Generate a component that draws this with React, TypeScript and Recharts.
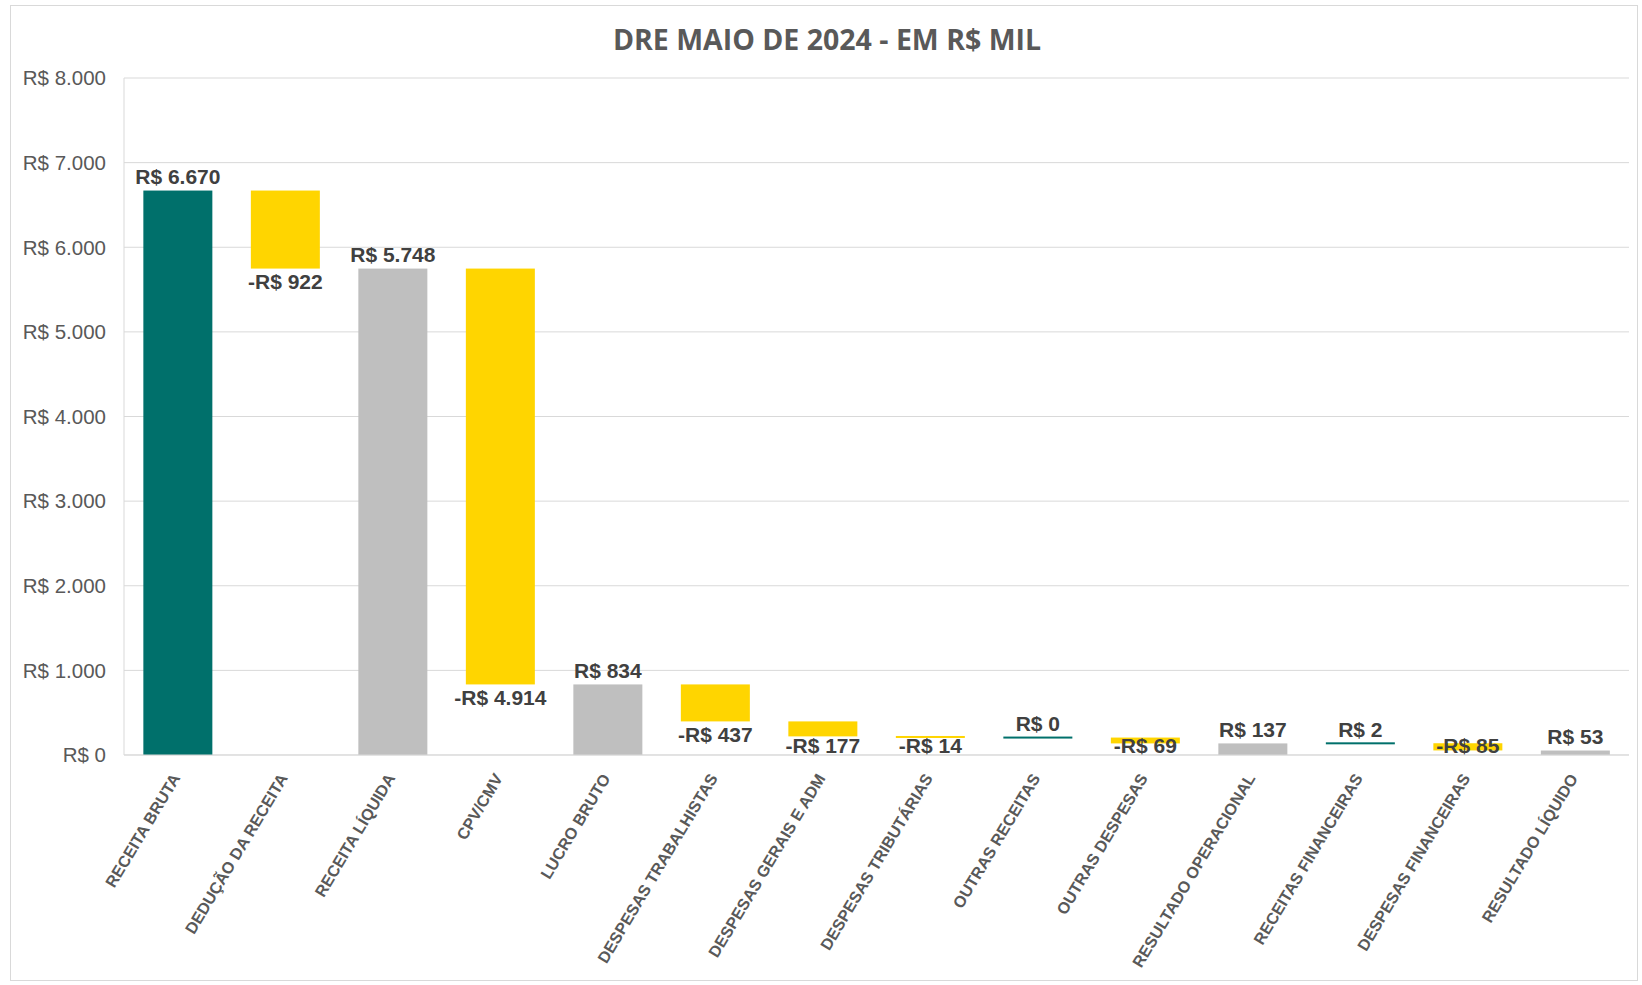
import React from 'react';
import { BarChart, Bar, XAxis, YAxis, CartesianGrid } from 'recharts';

const categories = [
  'RECEITA BRUTA',
  'DEDUÇÃO DA RECEITA',
  'RECEITA LÍQUIDA',
  'CPV/CMV',
  'LUCRO BRUTO',
  'DESPESAS TRABALHISTAS',
  'DESPESAS GERAIS E ADM',
  'DESPESAS TRIBUTÁRIAS',
  'OUTRAS RECEITAS',
  'OUTRAS DESPESAS',
  'RESULTADO OPERACIONAL',
  'RECEITAS FINANCEIRAS',
  'DESPESAS FINANCEIRAS',
  'RESULTADO LÍQUIDO',
];
const values = [6670, -922, 5748, -4914, 834, -437, -177, -14, 0, -69, 137, 2, -85, 53];
const kinds = ['delta', 'delta', 'total', 'delta', 'total', 'delta', 'delta', 'delta', 'delta', 'delta', 'total', 'delta', 'delta', 'total'];
const yTicks = [0, 1000, 2000, 3000, 4000, 5000, 6000, 7000, 8000];

const TEAL = '#00706B';
const YELLOW = '#FFD500';
const GRAY = '#BFBFBF';

const fmtNum = (n: number) => String(Math.abs(n)).replace(/\B(?=(\d{3})+(?!\d))/g, '.');
const fmtMoney = (n: number) => (n < 0 ? '-' : '') + 'R$ ' + fmtNum(n);

let running = 0;
const rows = categories.map((name, i) => {
  const v = values[i];
  let low: number, high: number;
  if (kinds[i] === 'total') {
    low = 0;
    high = v;
    running = v;
  } else {
    low = Math.min(running, running + v);
    high = Math.max(running, running + v);
    running = running + v;
  }
  const color = kinds[i] === 'total' ? GRAY : v >= 0 ? TEAL : YELLOW;
  return { name, value: v, kind: kinds[i], low, high, range: [low, high], color };
});

const BarShape = (props: any) => {
  const { x, width, payload } = props;
  let y = Number(props.y);
  let height = Number(props.height);
  if (height < 0) {
    y = y + height;
    height = -height;
  }
  const minH = 2;
  let ry = y;
  let rh = height;
  if (rh < minH) {
    ry = y - (minH - rh) / 2;
    rh = minH;
  }
  const v = payload.value;
  const above = payload.kind === 'total' || v >= 0;
  let ty: number;
  if (above) {
    ty = y - 14;
  } else {
    const span = payload.high - payload.low;
    const ppu = span > 0 ? height / span : 0;
    const axisY = y + height + payload.low * ppu;
    ty = Math.min(y + height + 13, axisY - 10);
  }
  return (
    <g>
      <rect x={x} y={ry} width={width} height={rh} fill={payload.color} />
      <text
        x={x + width / 2}
        y={ty}
        textAnchor="middle"
        dominantBaseline="central"
        fontFamily="'Liberation Sans', Arial, sans-serif"
        fontWeight="bold"
        fontSize={21}
        fill="#404040"
      >
        {fmtMoney(v)}
      </text>
    </g>
  );
};

const XTick = (props: any) => {
  const { x, y, payload } = props;
  return (
    <g transform={`translate(${x - 2},${y + 12}) rotate(-59)`}>
      <text
        x={0}
        y={0}
        textAnchor="end"
        dominantBaseline="central"
        fontFamily="'Liberation Sans', Arial, sans-serif"
        fontWeight="bold"
        fontSize={16.2}
        fill="#595959"
      >
        {payload.value}
      </text>
    </g>
  );
};

export default function App() {
  return (
    <div style={{ position: 'absolute', left: 0, top: 0, width: 1642, height: 985, background: '#fff' }}>
      <div
        style={{
          position: 'absolute',
          left: 10,
          top: 5,
          width: 1628,
          height: 976,
          border: '1px solid #d9d9d9',
          boxSizing: 'border-box',
        }}
      />
      <div
        style={{
          position: 'absolute',
          left: 0,
          top: 20,
          width: 1654,
          textAlign: 'center',
          fontFamily: "'Open Sans', sans-serif",
          fontWeight: 700,
          fontSize: 28.5,
          color: '#595959',
          lineHeight: '38px',
        }}
      >
        DRE MAIO DE 2024 - EM R$ MIL
      </div>
      <div style={{ position: 'absolute', left: 0, top: 0 }}>
        <BarChart
          width={1642}
          height={985}
          data={rows}
          margin={{ top: 78, right: 13, bottom: 10, left: 0 }}
          barCategoryGap="18%"
        >
          <CartesianGrid vertical={false} stroke="#d9d9d9" />
          <XAxis
            dataKey="name"
            interval={0}
            height={220}
            tick={<XTick />}
            tickLine={false}
            axisLine={{ stroke: '#d9d9d9' }}
          />
          <YAxis
            width={124}
            domain={[0, 8000]}
            ticks={yTicks}
            tickFormatter={(v: number) => 'R$ ' + fmtNum(v)}
            tick={{ fontFamily: "'Liberation Sans', Arial, sans-serif", fontSize: 20.5, fill: '#595959' }}
            tickLine={false}
            axisLine={{ stroke: '#d9d9d9' }}
            tickMargin={12}
          />
          <Bar dataKey="range" shape={<BarShape />} isAnimationActive={false} />
        </BarChart>
      </div>
    </div>
  );
}
